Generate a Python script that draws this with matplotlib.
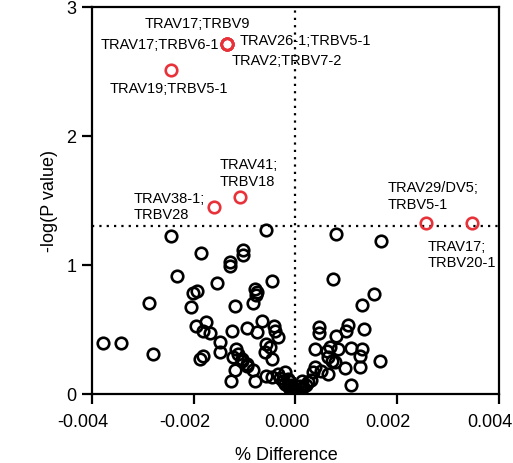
import matplotlib
matplotlib.use("Agg")
import matplotlib.pyplot as plt
from matplotlib.transforms import ScaledTranslation

plt.rcParams['font.family'] = ['Liberation Sans', 'DejaVu Sans']

# non-significant clonotypes (% difference, -log P)
ns_x = [-0.00379, -0.00342, -0.00280, -0.00288, -0.00245, -0.00232, -0.00186,
        -0.00194, -0.00201, -0.00205, -0.00196, -0.00175, -0.00181, -0.00167,
        -0.00155, -0.00129, -0.00129, -0.00104, -0.00104, -0.00119, -0.00125,
        -0.00095, -0.00148, -0.00148, -0.00188, -0.00181, -0.00116, -0.00112,
        -0.00122, -0.00106, -0.00096, -0.00119, -0.00127, -0.00057, -0.00047,
        -0.00080, -0.00076, -0.00078, -0.00083, -0.00066, -0.00076, -0.00042,
        -0.00040, -0.00035, -0.00057, -0.00050, -0.00060, -0.00106, -0.00096,
        -0.00083, -0.00047, -0.00080, -0.00057, -0.00047, -0.00034, -0.00021,
        -0.00014,
        -0.00030, -0.00025, -0.00020, -0.00015, -0.00010, -0.00005, 0.00000,
        0.00005, 0.00010, 0.00015, 0.00020, 0.00025, 0.00030, -0.00008,
        0.00008, 0.00000, 0.00012, -0.00012,
        0.00080, 0.00167, 0.00074, 0.00154, 0.00130, 0.00047, 0.00047,
        0.00104, 0.00099, 0.00135, 0.00079, 0.00038, 0.00061, 0.00068,
        0.00084, 0.00109, 0.00130, 0.00127, 0.00064, 0.00071, 0.00078,
        0.00166, 0.00097, 0.00127, 0.00038, 0.00035, 0.00051, 0.00064,
        0.00110]
ns_y = [0.393, 0.393, 0.308, 0.702, 1.227, 0.912, 1.091,
        0.801, 0.779, 0.674, 0.529, 0.560, 0.491, 0.473,
        0.859, 1.021, 0.995, 1.119, 1.074, 0.680, 0.491,
        0.509, 0.401, 0.328, 0.267, 0.292, 0.349, 0.310,
        0.284, 0.258, 0.219, 0.188, 0.097, 1.271, 0.872,
        0.814, 0.788, 0.770, 0.705, 0.568, 0.478, 0.529,
        0.488, 0.440, 0.388, 0.362, 0.323, 0.271, 0.233,
        0.188, 0.271, 0.103, 0.142, 0.129, 0.155, 0.168,
        0.116,
        0.120, 0.100, 0.080, 0.060, 0.040, 0.020, 0.008,
        0.020, 0.040, 0.050, 0.070, 0.090, 0.110, 0.070,
        0.060, 0.030, 0.100, 0.100,
        1.240, 1.186, 0.891, 0.775, 0.691, 0.517, 0.475,
        0.533, 0.491, 0.506, 0.452, 0.349, 0.336, 0.362,
        0.349, 0.357, 0.349, 0.297, 0.284, 0.258, 0.246,
        0.253, 0.202, 0.212, 0.207, 0.168, 0.181, 0.155,
        0.072]

# significant clonotypes
sig_x = [-0.00135, -0.00135, -0.00135, -0.00135, -0.00245,
         -0.00109, -0.00160, 0.00257, 0.00346]
sig_y = [2.713, 2.713, 2.713, 2.713, 2.514,
         1.525, 1.447, 1.326, 1.326]

p_cut = 1.301  # -log10(0.05)

fig = plt.figure(figsize=(5.13, 4.64), dpi=100)
ax = fig.add_axes([0.179, 0.149, 0.794, 0.834])

ax.plot(ns_x, ns_y, 'o', mfc='none', mec='black', ms=8.3, mew=1.9, ls='none')
ax.plot(sig_x, sig_y, 'o', mfc='none', mec='#e8323a', ms=8.3, mew=1.9, ls='none',
        zorder=4)

ax.axhline(p_cut, color='black', lw=1.6, ls=(0, (1, 2.3)), zorder=1)
ax.axvline(0, color='black', lw=1.6, ls=(0, (1, 2.3)), zorder=1)

fs = 10.5
ax.text(-0.001936, 2.876, 'TRAV17;TRBV9', fontsize=fs, ha='center', va='center')
ax.text(-0.001504, 2.713, 'TRAV17;TRBV6-1', fontsize=fs, ha='right', va='center')
ax.text(-0.001091, 2.747, 'TRAV26-1;TRBV5-1', fontsize=fs, ha='left', va='center')
ax.text(-0.001254, 2.589, 'TRAV2;TRBV7-2', fontsize=fs, ha='left', va='center')
ax.text(-0.003660, 2.370, 'TRAV19;TRBV5-1', fontsize=fs, ha='left', va='center')
ax.text(-0.001498, 1.719, 'TRAV41;\nTRBV18', fontsize=fs, ha='left', va='center',
        linespacing=1.25)
ax.text(-0.003188, 1.456, 'TRAV38-1;\nTRBV28', fontsize=fs, ha='left', va='center',
        linespacing=1.25)
ax.text(0.001804, 1.537, 'TRAV29/DV5;\nTRBV5-1', fontsize=fs, ha='left',
        va='center', linespacing=1.25)
ax.text(0.002604, 1.085, 'TRAV17;\nTRBV20-1', fontsize=fs, ha='left',
        va='center', linespacing=1.25)

ax.set_xlim(-0.004, 0.004)
ax.set_ylim(0, 3)
ax.set_xticks([-0.004, -0.002, 0.0, 0.002, 0.004])
ax.set_xticklabels(['-0.004', '-0.002', '0.000', '0.002', '0.004'])
ax.set_yticks([0, 1, 2, 3])
ax.tick_params(direction='out', length=7, width=1.6, labelsize=13, pad=4)
ax.tick_params(axis='x', pad=7)
for s in ax.spines.values():
    s.set_linewidth(1.6)
ax.set_xlabel('% Difference', fontsize=13, labelpad=11)
ax.set_ylabel('-log(P value)', fontsize=13, labelpad=6)

# x labels sit a little left of their ticks in the original
shift = ScaledTranslation(-9 / 100, 0, fig.dpi_scale_trans)
for lab in ax.get_xticklabels():
    lab.set_transform(lab.get_transform() + shift)
ax.xaxis.label.set_transform(ax.xaxis.label.get_transform() + shift)

fig.savefig('out.png', dpi=100)
